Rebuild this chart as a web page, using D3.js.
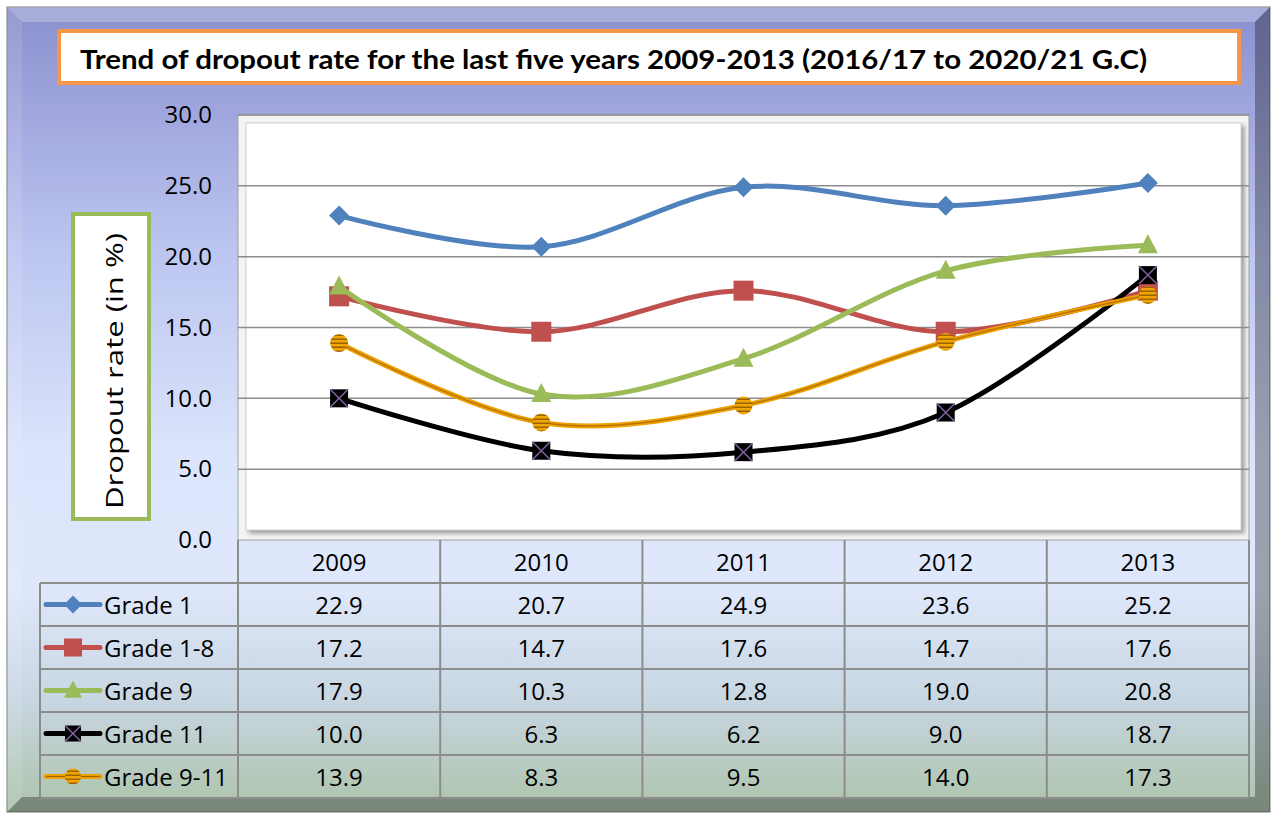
<!DOCTYPE html>
<html>
<head>
<meta charset="utf-8">
<script src="https://cdn.jsdelivr.net/npm/d3@7"></script>
<style>
  body { margin: 0; background: #fff; }
  text { font-family: 'Open Sans', 'Noto Sans', sans-serif; }
</style>
</head>
<body>
<script>
const years = ['2009', '2010', '2011', '2012', '2013'];
const seriesNames = ['Grade 1', 'Grade 1-8', 'Grade 9', 'Grade 11', 'Grade 9-11'];
const grade1 = [22.9, 20.7, 24.9, 23.6, 25.2];
const grade1to8 = [17.2, 14.7, 17.6, 14.7, 17.6];
const grade9 = [17.9, 10.3, 12.8, 19.0, 20.8];
const grade11 = [10.0, 6.3, 6.2, 9.0, 18.7];
const grade9to11 = [13.9, 8.3, 9.5, 14.0, 17.3];
const yTicks = [0, 5, 10, 15, 20, 25, 30];

const series = [
  {name: seriesNames[0], values: grade1, color: '#4f81bd', marker: 'diamond'},
  {name: seriesNames[1], values: grade1to8, color: '#c0504d', marker: 'square'},
  {name: seriesNames[2], values: grade9, color: '#9bbb59', marker: 'triangle'},
  {name: seriesNames[3], values: grade11, color: '#000000', marker: 'x'},
  {name: seriesNames[4], values: grade9to11, color: '#eea000', marker: 'circle'},
];

const W = 1276, H = 814;
const fontSize = 24;
const svg = d3.select('body').append('svg')
  .attr('width', W)
  .attr('height', H);

const defs = svg.append('defs');
const bg = defs.append('linearGradient').attr('id', 'bg')
  .attr('x1', 0).attr('y1', 0).attr('x2', 0).attr('y2', 1);
[[0, '#8a90cd'], [0.12, '#9ea4dc'], [0.3, '#bcc5f0'], [0.55, '#dae4fb'], [0.72, '#dfe8fb'],
  [0.86, '#c8d6e2'], [1, '#adc3aa']].forEach(([o, c]) => {
  bg.append('stop').attr('offset', o).attr('stop-color', c);
});

const stripes = defs.append('pattern').attr('id', 'stripes')
  .attr('patternUnits', 'userSpaceOnUse').attr('width', 4).attr('height', 4);
stripes.append('rect').attr('width', 4).attr('height', 4).attr('fill', '#f2a400');
stripes.append('rect').attr('y', 2.5).attr('width', 4).attr('height', 1.5).attr('fill', '#9a6400');

// outer frame with bevel
const fx0 = 7, fy0 = 7, fx1 = 1270, fy1 = 812, b = 15;
svg.append('rect')
  .attr('x', fx0).attr('y', fy0)
  .attr('width', fx1 - fx0).attr('height', fy1 - fy0)
  .attr('fill', 'url(#bg)')
  .attr('stroke', '#7a7a7a');

const bevel = [
  {pts: [[fx0, fy0], [fx1, fy0], [fx1 - b, fy0 + b], [fx0 + b, fy0 + b]], fill: '#ffffff', op: 0.25},
  {pts: [[fx0, fy0], [fx0 + b, fy0 + b], [fx0 + b, fy1 - b], [fx0, fy1]], fill: '#ffffff', op: 0.1},
  {pts: [[fx1, fy0], [fx1, fy1], [fx1 - b, fy1 - b], [fx1 - b, fy0 + b]], fill: '#000000', op: 0.3},
  {pts: [[fx0, fy1], [fx0 + b, fy1 - b], [fx1 - b, fy1 - b], [fx1, fy1]], fill: '#000000', op: 0.3},
];
svg.selectAll('polygon.bevel')
  .data(bevel).join('polygon')
  .attr('class', 'bevel')
  .attr('points', (d) => d.pts.map((p) => p.join(',')).join(' '))
  .attr('fill', (d) => d.fill)
  .attr('fill-opacity', (d) => d.op);

// title
svg.append('rect')
  .attr('x', 59).attr('y', 31)
  .attr('width', 1180).attr('height', 52)
  .attr('fill', '#ffffff')
  .attr('stroke', '#f79646')
  .attr('stroke-width', 4);
svg.append('text')
  .attr('x', 80).attr('y', 69)
  .attr('font-size', 27)
  .attr('font-weight', 'bold')
  .style('font-family', "Lato, 'Open Sans', sans-serif")
  .attr('textLength', 1067)
  .attr('lengthAdjust', 'spacingAndGlyphs')
  .text('Trend of dropout rate for the last five years 2009-2013 (2016/17 to 2020/21 G.C)');

// scales
const x = d3.scaleBand().domain(years).range([238, 1249]);
const y = d3.scaleLinear().domain([0, 30]).range([540, 115]);
const cx = (yr) => x(yr) + x.bandwidth() / 2;

// plot area
svg.append('rect')
  .attr('x', 238).attr('y', 115)
  .attr('width', 1011).attr('height', 425)
  .attr('fill', '#f4f4f4')
  .attr('stroke', '#a0a0a0');
svg.append('rect')
  .attr('x', 246).attr('y', 123)
  .attr('width', 995).attr('height', 407)
  .attr('fill', '#ffffff')
  .attr('stroke', '#d0d0d0')
  .style('filter', 'drop-shadow(3px 3px 2px rgba(0,0,0,0.35))');

svg.selectAll('line.grid')
  .data(yTicks.slice(1)).join('line')
  .attr('class', 'grid')
  .attr('x1', 238).attr('x2', 1249)
  .attr('y1', (d) => y(d)).attr('y2', (d) => y(d))
  .attr('stroke', '#8c8c8c')
  .attr('stroke-width', 1.5);

const yAxis = svg.append('g')
  .attr('transform', 'translate(238,0)')
  .call(d3.axisLeft(y).tickValues(yTicks).tickFormat(d3.format('.1f')).tickSize(0).tickPadding(26));
yAxis.select('.domain').remove();
yAxis.selectAll('text')
  .attr('font-size', fontSize)
  .attr('fill', '#000')
  .style('font-family', "'Open Sans', sans-serif");

// y title box
svg.append('rect')
  .attr('x', 73).attr('y', 214)
  .attr('width', 76).attr('height', 305)
  .attr('fill', '#ffffff')
  .attr('stroke', '#9bbb59')
  .attr('stroke-width', 4);
svg.append('text')
  .attr('transform', 'translate(123,371) rotate(-90)')
  .attr('text-anchor', 'middle')
  .attr('font-size', fontSize)
  .attr('textLength', 276)
  .attr('lengthAdjust', 'spacingAndGlyphs')
  .text('Dropout rate (in %)');

// table
const rowTop = 540, rowH = 43, tableLeft = 40;
const rowBottom = rowTop + rowH * (series.length + 1);
const colEdges = years.map((yr) => x(yr)).concat([x.range()[1]]);

const grid = svg.append('g').attr('stroke', '#8c8c8c').attr('stroke-width', 2);
d3.range(1, series.length + 2).forEach((i) => {
  grid.append('line')
    .attr('x1', tableLeft).attr('x2', 1249)
    .attr('y1', rowTop + i * rowH).attr('y2', rowTop + i * rowH);
});
grid.append('line')
  .attr('x1', tableLeft).attr('x2', tableLeft)
  .attr('y1', rowTop + rowH).attr('y2', rowBottom);
colEdges.forEach((ex) => {
  grid.append('line')
    .attr('x1', ex).attr('x2', ex)
    .attr('y1', rowTop).attr('y2', rowBottom);
});

svg.selectAll('text.year')
  .data(years).join('text')
  .attr('class', 'year')
  .attr('x', (d) => cx(d))
  .attr('y', rowTop + rowH / 2 + 9)
  .attr('text-anchor', 'middle')
  .attr('font-size', fontSize)
  .text((d) => d);

function drawMarker(g, type, px, py, s, color) {
  if (type === 'diamond') {
    g.append('path')
      .attr('d', `M${px} ${py - s / 2}L${px + s / 2} ${py}L${px} ${py + s / 2}L${px - s / 2} ${py}Z`)
      .attr('fill', color);
  } else if (type === 'square') {
    g.append('rect')
      .attr('x', px - s / 2).attr('y', py - s / 2)
      .attr('width', s).attr('height', s)
      .attr('fill', color);
  } else if (type === 'triangle') {
    g.append('path')
      .attr('d', `M${px} ${py - s * 0.55}L${px + s / 2} ${py + s * 0.4}L${px - s / 2} ${py + s * 0.4}Z`)
      .attr('fill', color);
  } else if (type === 'x') {
    const h = s / 2 - 1;
    g.append('rect')
      .attr('x', px - h).attr('y', py - h)
      .attr('width', h * 2).attr('height', h * 2)
      .attr('fill', '#000');
    g.append('path')
      .attr('d', `M${px - h} ${py - h}L${px + h} ${py + h}M${px + h} ${py - h}L${px - h} ${py + h}`)
      .attr('stroke', '#8064a2')
      .attr('stroke-width', 1.5);
  } else if (type === 'circle') {
    g.append('circle')
      .attr('cx', px).attr('cy', py).attr('r', s / 2 - 1)
      .attr('fill', 'url(#stripes)');
  }
}

series.forEach((s, i) => {
  const ry = rowTop + (i + 1) * rowH;
  const midY = ry + rowH / 2;
  const g = svg.append('g');
  g.append('line')
    .attr('x1', 46).attr('x2', 100)
    .attr('y1', midY).attr('y2', midY)
    .attr('stroke', s.color)
    .attr('stroke-width', 5)
    .attr('stroke-linecap', 'round');
  if (s.marker === 'circle') {
    g.append('line')
      .attr('x1', 46).attr('x2', 100)
      .attr('y1', midY).attr('y2', midY)
      .attr('stroke', '#9a6400')
      .attr('stroke-width', 1);
  }
  drawMarker(g, s.marker, 73, midY, 18, s.color);
  g.append('text')
    .attr('x', 104).attr('y', midY + 9)
    .attr('font-size', fontSize)
    .text(s.name);
  g.selectAll('text.val')
    .data(s.values).join('text')
    .attr('class', 'val')
    .attr('x', (d, j) => cx(years[j]))
    .attr('y', midY + 9)
    .attr('text-anchor', 'middle')
    .attr('font-size', fontSize)
    .text((d) => d.toFixed(1));
});

// lines
const line = d3.line()
  .x((d, j) => cx(years[j]))
  .y((d) => y(d))
  .curve(d3.curveCardinal.tension(0));

series.forEach((s) => {
  const g = svg.append('g');
  g.append('path')
    .attr('d', line(s.values))
    .attr('fill', 'none')
    .attr('stroke', s.color)
    .attr('stroke-width', 5);
  if (s.marker === 'circle') {
    g.append('path')
      .attr('d', line(s.values))
      .attr('fill', 'none')
      .attr('stroke', '#8a5800')
      .attr('stroke-width', 1.5)
      .attr('stroke-opacity', 0.55);
  }
  s.values.forEach((v, j) => {
    drawMarker(g, s.marker, cx(years[j]), y(v), 20, s.color);
  });
});
</script>
</body>
</html>
